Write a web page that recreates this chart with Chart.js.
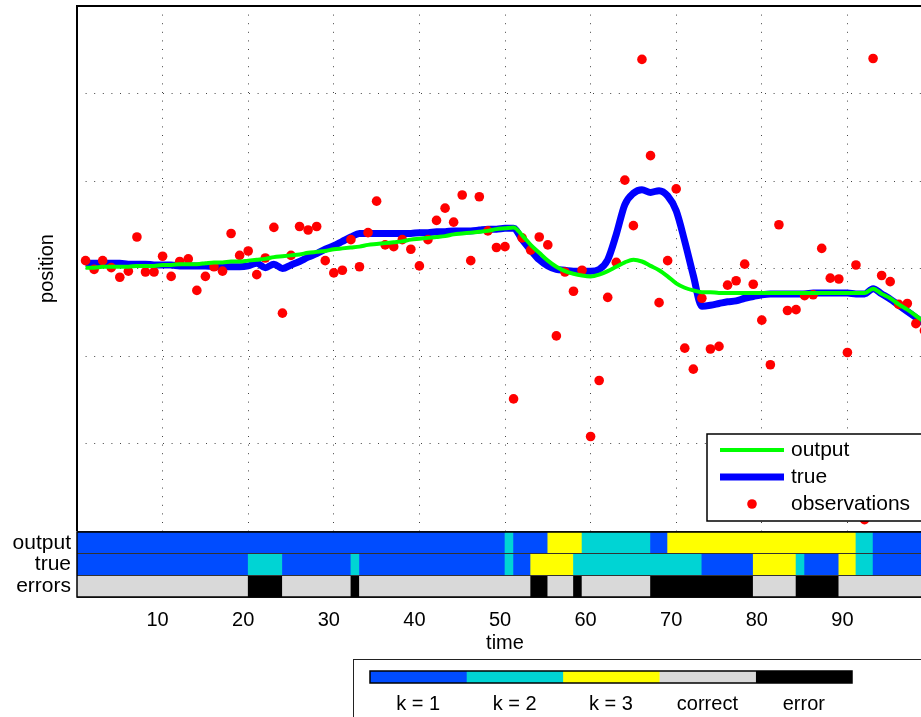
<!DOCTYPE html>
<html>
<head>
<meta charset="utf-8">
<script src="https://cdn.jsdelivr.net/npm/chart.js@4.4.1/dist/chart.umd.min.js"></script>
<style>
  html, body { margin: 0; padding: 0; background: #fff; overflow: hidden; }
  body { width: 921px; height: 717px; position: relative; }
  #top { position: absolute; left: 0; top: 0; }
  #bands { position: absolute; left: 0; top: 520px; }
  #keyBox { position: absolute; left: 353px; top: 659px; width: 620px; height: 80px;
            border: 1px solid #222; box-sizing: border-box; }
  #key { position: absolute; left: 0; top: 0; }
</style>
</head>
<body>
<canvas id="top" width="934" height="532"></canvas>
<canvas id="bands" width="934" height="140"></canvas>
<div id="keyBox"><canvas id="key" width="580" height="58"></canvas></div>
<script>
// one value per time step, t = 1..99
const observations = [
  0.9, -0.1, 0.9, 0.1, -1.0, -0.3, 3.6, -0.4, -0.4, 1.4,
  -0.9, 0.8, 1.1, -2.5, -0.9, 0.2, -0.3, 4.0, 1.5, 2.0,
  -0.7, 1.2, 4.7, -5.1, 1.5, 4.8, 4.4, 4.8, 0.9, -0.5,
  -0.2, 3.3, 0.2, 4.1, 7.7, 2.7, 2.5, 3.3, 2.2, 0.3,
  3.3, 5.5, 6.9, 5.3, 8.4, 0.9, 8.2, 4.3, 2.4, 2.5,
  -14.9, 3.5, 2.1, 3.6, 2.7, -7.7, -0.4, -2.6, -0.2, -19.2,
  -12.8, -3.3, 0.7, 10.1, 4.9, 23.9, 12.9, -3.9, 0.9, 9.1,
  -9.1, -11.5, -3.4, -9.2, -8.9, -1.9, -1.4, 0.5, -1.8, -5.9,
  -11.0, 5.0, -4.8, -4.7, -3.1, -3.0, 2.3, -1.1, -1.2, -9.6,
  0.4, -28.7, 24.0, -0.8, -1.5, -4.1, -4.0, -6.3, -7.1
];
const trueTrack = [
  0.6, 0.6, 0.6, 0.6, 0.6, 0.5, 0.5, 0.5, 0.4, 0.4,
  0.4, 0.3, 0.3, 0.3, 0.3, 0.2, 0.2, 0.2, 0.2, 0.3,
  0.6, 0.1, 0.5, 0.0, 0.4, 0.8, 1.3, 1.7, 2.2, 2.6,
  3.1, 3.6, 4.0, 4.0, 4.0, 4.0, 4.0, 4.0, 4.0, 4.1,
  4.1, 4.2, 4.2, 4.3, 4.3, 4.3, 4.4, 4.5, 4.5, 4.6,
  4.6, 3.3, 2.1, 1.0, 0.3, -0.1, -0.2, -0.3, -0.3, -0.3,
  -0.1, 1.0, 3.9, 7.3, 8.6, 9.0, 8.7, 8.9, 8.3, 6.6,
  3.1, -0.8, -4.3, -4.2, -4.0, -3.8, -3.7, -3.4, -3.2, -3.0,
  -2.9, -2.9, -2.9, -2.9, -2.9, -2.8, -2.8, -2.8, -2.8, -2.8,
  -2.9, -2.9, -2.3, -2.9, -3.5, -4.2, -4.9, -5.6, -6.3
];
const outputTrack = [
  0.1, 0.1, 0.2, 0.2, 0.2, 0.2, 0.3, 0.3, 0.3, 0.4,
  0.4, 0.5, 0.5, 0.5, 0.6, 0.7, 0.7, 0.8, 0.8, 0.9,
  1.0, 1.1, 1.3, 1.4, 1.5, 1.6, 1.8, 1.9, 2.0, 2.2,
  2.3, 2.4, 2.5, 2.7, 2.8, 2.9, 3.0, 3.1, 3.3, 3.4,
  3.5, 3.6, 3.7, 3.9, 4.0, 4.1, 4.2, 4.3, 4.5, 4.6,
  4.7, 3.8, 2.7, 1.8, 0.9, 0.2, -0.3, -0.6, -0.8, -0.9,
  -0.7, -0.3, 0.2, 0.7, 1.0, 0.8, 0.3, -0.2, -0.9, -1.7,
  -2.2, -2.5, -2.7, -2.7, -2.8, -2.8, -2.8, -2.8, -2.8, -2.8,
  -2.8, -2.8, -2.8, -2.8, -2.8, -2.8, -2.8, -2.8, -2.8, -2.8,
  -2.8, -2.8, -2.3, -2.9, -3.4, -4.1, -4.7, -5.4, -6.1
];

// state runs: [from, to, state]; states 1..3 = k, 4 = correct, 5 = error
const outputRuns = [[0, 50, 1], [50, 51, 2], [51, 55, 1], [55, 59, 3], [59, 67, 2],
  [67, 69, 1], [69, 91, 3], [91, 93, 2], [93, 100, 1]];
const trueRuns = [[0, 20, 1], [20, 24, 2], [24, 32, 1], [32, 33, 2], [33, 50, 1],
  [50, 51, 2], [51, 53, 1], [53, 58, 3], [58, 73, 2], [73, 79, 1], [79, 84, 3],
  [84, 85, 2], [85, 89, 1], [89, 91, 3], [91, 93, 2], [93, 100, 1]];
const errorRuns = [[0, 20, 4], [20, 24, 5], [24, 32, 4], [32, 33, 5], [33, 53, 4],
  [53, 55, 5], [55, 58, 4], [58, 59, 5], [59, 67, 4], [67, 79, 5], [79, 84, 4],
  [84, 89, 5], [89, 100, 4]];

const rowNames = ['output', 'true', 'errors'];
const stateLabels = ['k = 1', 'k = 2', 'k = 3', 'correct', 'error'];
const stateColors = ['#004cff', '#00d4d4', '#ffff00', '#d9d9d9', '#000000'];
const timeTicks = [10, 20, 30, 40, 50, 60, 70, 80, 90];
const posTicks = [-20, -10, 0, 10, 20];

const FONT = '"Liberation Sans", Arial, Helvetica, sans-serif';
Chart.defaults.font.family = FONT;
Chart.defaults.font.size = 20;
Chart.defaults.color = '#000';
Chart.defaults.animation = false;

const atTimes = vals => vals.map((v, i) => ({ x: i + 1, y: v }));
const fixTicks = list => scale => { scale.ticks = list.map(v => ({ value: v })); };
const noEdgePad = s => { s.paddingTop = 0; s.paddingBottom = 0; s.paddingLeft = 0; s.paddingRight = 0; };

// black frame on top and left of the upper panel
const axesFrame = {
  id: 'axesFrame',
  afterDatasetsDraw(chart) {
    const { ctx, chartArea: a } = chart;
    ctx.save();
    ctx.strokeStyle = '#000';
    ctx.lineWidth = 2;
    ctx.beginPath();
    ctx.moveTo(a.left, a.bottom);
    ctx.lineTo(a.left, a.top);
    ctx.lineTo(a.right, a.top);
    ctx.stroke();
    ctx.restore();
  }
};

// legend box drawn inside the plot, bottom right
const lineKey = {
  id: 'lineKey',
  afterDatasetsDraw(chart) {
    const { ctx, chartArea: a } = chart;
    const x0 = a.right - 226, y0 = a.bottom - 97;
    ctx.save();
    ctx.fillStyle = '#fff';
    ctx.fillRect(x0, y0, 260, 87);
    ctx.strokeStyle = '#000';
    ctx.lineWidth = 1.5;
    ctx.strokeRect(x0, y0, 260, 87);
    ctx.font = '21px ' + FONT;
    ctx.textBaseline = 'middle';
    chart.data.datasets.forEach((ds, i) => {
      const y = y0 + 16 + i * 27;
      if (ds.showLine === false) {
        ctx.beginPath();
        ctx.arc(x0 + 45, y, ds.pointRadius, 0, Math.PI * 2);
        ctx.fillStyle = ds.pointBackgroundColor;
        ctx.fill();
      } else {
        ctx.beginPath();
        ctx.moveTo(x0 + 13, y);
        ctx.lineTo(x0 + 77, y);
        ctx.strokeStyle = ds.borderColor;
        ctx.lineWidth = ds.borderWidth;
        ctx.stroke();
      }
      ctx.fillStyle = '#000';
      ctx.fillText(ds.label, x0 + 84, y);
    });
    ctx.restore();
  }
};

const boxFrame = {
  id: 'boxFrame',
  afterDraw(chart) {
    const { ctx, chartArea: a } = chart;
    ctx.save();
    ctx.strokeStyle = '#000';
    ctx.lineWidth = 1.5;
    ctx.strokeRect(a.left, a.top, a.right - a.left, a.bottom - a.top);
    ctx.restore();
  }
};

new Chart(document.getElementById('top'), {
  type: 'line',
  data: {
    datasets: [
      { label: 'output', data: atTimes(outputTrack), borderColor: '#00ff00', borderWidth: 4,
        pointRadius: 0, cubicInterpolationMode: 'monotone', borderJoinStyle: 'round', order: 0 },
      { label: 'true', data: atTimes(trueTrack), borderColor: '#0000ff', borderWidth: 7,
        pointRadius: 0, cubicInterpolationMode: 'monotone', borderJoinStyle: 'round', order: 2 },
      { label: 'observations', data: atTimes(observations), showLine: false, pointRadius: 4.8,
        pointBackgroundColor: '#ff0000', pointBorderWidth: 0, order: 1 }
    ]
  },
  options: {
    responsive: false,
    layout: { autoPadding: false, padding: { top: 6, right: 1, bottom: 1, left: 0 } },
    plugins: { legend: { display: false }, tooltip: { enabled: false } },
    scales: {
      x: {
        type: 'linear', min: 0, max: 100,
        afterBuildTicks: fixTicks(timeTicks),
        afterFit: s => { s.height = 0; noEdgePad(s); },
        ticks: { display: false },
        grid: { color: '#444', drawTicks: false },
        border: { display: false, dash: [1, 7.6] }
      },
      y: {
        min: -30, max: 30,
        afterBuildTicks: fixTicks(posTicks),
        afterFit: s => { s.width = 77; noEdgePad(s); },
        ticks: { display: false },
        grid: { color: '#444', drawTicks: false },
        border: { display: false, dash: [1, 7.6] },
        title: { display: true, text: 'position', padding: { top: 35, bottom: 0 } }
      }
    }
  },
  plugins: [axesFrame, lineKey]
});

const bandCells = [
  ...outputRuns.map(([s, e, k]) => ({ x: [s, e], y: 'output', k })),
  ...trueRuns.map(([s, e, k]) => ({ x: [s, e], y: 'true', k })),
  ...errorRuns.map(([s, e, k]) => ({ x: [s, e], y: 'errors', k }))
];

new Chart(document.getElementById('bands'), {
  type: 'bar',
  data: {
    labels: rowNames,
    datasets: [{
      data: bandCells,
      backgroundColor: c => (c.raw ? stateColors[c.raw.k - 1] : '#000'),
      borderWidth: 0, categoryPercentage: 1, barPercentage: 1
    }]
  },
  options: {
    indexAxis: 'y',
    responsive: false,
    layout: { autoPadding: false, padding: { top: 12, right: 1, bottom: 0, left: 0 } },
    plugins: { legend: { display: false }, tooltip: { enabled: false } },
    scales: {
      x: {
        type: 'linear', min: 0, max: 100,
        afterBuildTicks: fixTicks(timeTicks),
        afterFit: s => { s.height = 63; noEdgePad(s); },
        ticks: { padding: 3, labelOffset: -5, maxRotation: 0 },
        grid: { display: false },
        border: { display: false },
        title: { display: true, text: 'time', padding: { top: 0, bottom: 5 } }
      },
      y: {
        afterFit: s => { s.width = 77; noEdgePad(s); },
        ticks: { padding: 6, autoSkip: false, font: { size: 21 } },
        grid: { color: '#333', lineWidth: 1, drawTicks: false, z: 1 },
        border: { display: false }
      }
    }
  },
  plugins: [boxFrame]
});

new Chart(document.getElementById('key'), {
  type: 'bar',
  data: {
    labels: [''],
    datasets: stateColors.map((c, i) => ({
      label: stateLabels[i], data: [1], backgroundColor: c,
      borderWidth: 0, categoryPercentage: 1, barPercentage: 1
    }))
  },
  options: {
    indexAxis: 'y',
    responsive: false,
    layout: { autoPadding: false, padding: { top: 11, right: 82, bottom: 0, left: 16 } },
    plugins: { legend: { display: false }, tooltip: { enabled: false } },
    scales: {
      x: {
        stacked: true, min: 0, max: 5,
        afterBuildTicks: fixTicks(stateLabels.map((_, i) => i + 0.5)),
        afterFit: s => { s.height = 35; noEdgePad(s); },
        ticks: { padding: 1, maxRotation: 0, autoSkip: false, callback: (v, i) => stateLabels[i] },
        grid: { display: false },
        border: { display: false }
      },
      y: { stacked: true, display: false }
    }
  },
  plugins: [boxFrame]
});
</script>
</body>
</html>
